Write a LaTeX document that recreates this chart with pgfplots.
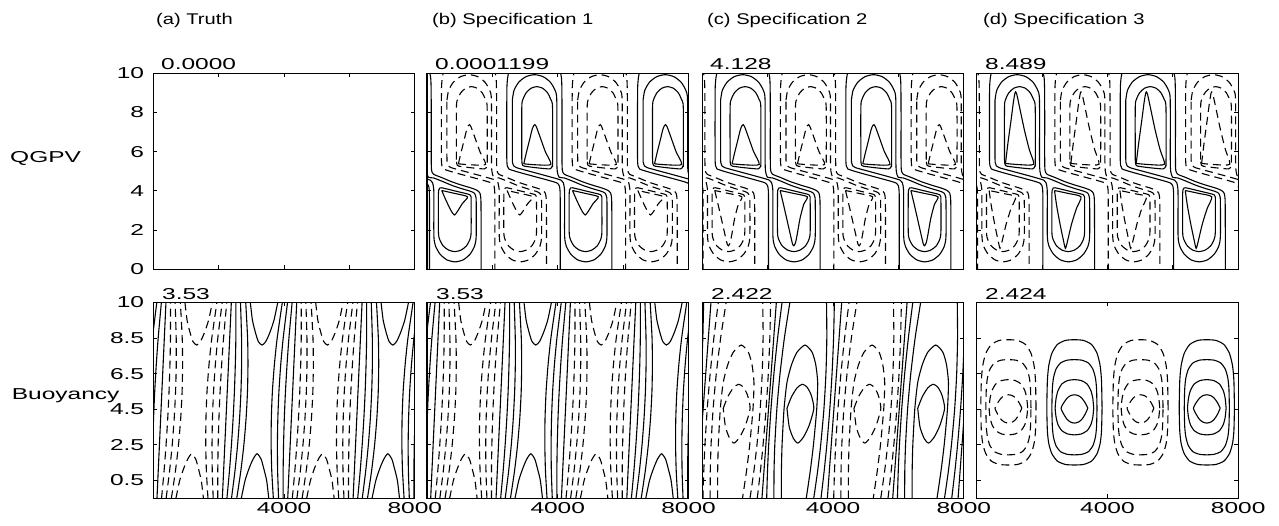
\documentclass[border=0pt]{standalone}
\usepackage{fontspec}
\setmainfont{Liberation Sans}[FakeStretch=1.55]
\newfontfamily\titlefont{Liberation Sans}[FakeStretch=1.3]
\usepackage{pgfplots}
\pgfplotsset{compat=1.18}
\usepackage{pgfplotstable}

% ---------- QGPV band (one positive band, specification 2 position) ----------
\pgfplotstableread{
x y
480 10.3
420 9.8
395 9.3
390 8.0
390 6.0
392 5.55
405 5.28
450 5.12
700 4.98
1000 4.84
1400 4.66
1750 4.5
1930 4.4
2000 4.25
2020 4.0
2025 3.6
2025 2.0
2025 -0.3
}\tLoneL
\pgfplotstableread{
x y
2000 10.3
2060 9.8
2075 9.3
2080 8.0
2080 5.6
2090 5.05
2150 4.85
2400 4.68
2700 4.47
3000 4.3
3300 4.15
3480 4.03
3570 3.88
3600 3.5
3605 2.0
3605 -0.3
}\tLoneR
\pgfplotstableread{
x y
560 8.63
612 9.13
759 9.55
980 9.83
1240 9.93
1500 9.83
1721 9.55
1868 9.13
1920 8.63
1922 5.6
1935 5.0
1990 4.7
2150 4.66
2400 4.5
2700 4.29
3000 4.12
3300 3.97
3400 3.88
3440 3.72
3455 3.45
3455 1.7
3407 1.19
3266 0.77
3056 0.48
2808 0.38
2560 0.48
2350 0.77
2209 1.19
2160 1.7
2160 3.55
2155 4.1
2120 4.42
2050 4.55
1750 4.7
1400 4.86
1000 5.04
700 5.18
600 5.28
570 5.42
560 5.75
560 8.63
}\tLtwo
\pgfplotstableread{
x y
850 5.6
850 8.27
885 8.67
985 9.01
1134 9.24
1310 9.32
1486 9.24
1635 9.01
1735 8.67
1790 8.27
1792 5.5
1785 5.3
1760 5.18
1700 5.12
1300 5.18
930 5.26
880 5.3
858 5.4
850 5.6
}\tLthreeU
\pgfplotstableread{
x y
2300 3.85
2300 1.9
2338 1.52
2446 1.19
2609 0.98
2800 0.9
2991 0.98
3154 1.19
3262 1.52
3300 1.9
3300 3.55
3292 3.72
3265 3.8
3200 3.84
2800 4.0
2400 4.16
2345 4.15
2310 4.05
2300 3.85
}\tLthreeD
\pgfplotstableread{
x y
910 5.38
990 5.95
1080 6.55
1160 7.1
1210 7.32
1250 7.38
1300 7.25
1420 6.7
1570 6.0
1740 5.35
1300 5.33
910 5.38
}\tLfourUc
\pgfplotstableread{
x y
880 5.4
960 6.5
1050 7.6
1120 8.5
1165 8.95
1190 9.05
1230 8.9
1320 8.2
1460 7.1
1610 6.1
1740 5.36
1300 5.34
880 5.4
}\tLfourUd
\pgfplotstableread{
x y
2380 4.02
2470 3.4
2580 2.6
2700 1.72
2760 1.3
2800 1.2
2850 1.35
2900 1.75
2990 2.6
3100 3.3
3210 3.7
2800 3.87
2380 4.02
}\tLfourDc
\pgfplotstableread{
x y
2380 4.02
2450 3.2
2550 2.3
2650 1.5
2713 1.07
2780 1.45
2900 2.3
3050 3.1
3190 3.7
2800 3.87
2380 4.02
}\tLfourDd
\pgfplotstableread{
x y
2400 4.02
2550 3.45
2700 2.95
2790 2.77
2880 2.95
3030 3.35
3190 3.7
2800 3.87
2400 4.02
}\tLfourDb

% ---------- Buoyancy, truth / spec 1 (relative to a saddle centre) ----------
\pgfplotstableread{
x y
-997.5 -0.5
-922 1
-859.5 2.5
-808 4
-768.5 5.5
-741 7
-724.5 8.5
-722.5 10.5
}\tBaOneL
\pgfplotstableread{
x y
722.5 -0.5
722 1
734.5 2.5
758 4
793.5 5.5
841 7
899.5 8.5
997.5 10.5
}\tBaOneR
\pgfplotstableread{
x y
-857.5 -0.5
-754 1
-671.5 2.5
-610 4
-568.5 5.5
-548 7
-549.5 8.5
-582.5 10.5
}\tBaTwoL
\pgfplotstableread{
x y
582.5 -0.5
554 1
546.5 2.5
560 4
593.5 5.5
648 7
724.5 8.5
857.5 10.5
}\tBaTwoR
\pgfplotstableread{
x y
-697.5 -0.5
-575 1
-479.5 2.5
-411 4
-368.5 5.5
-354 7
-365.5 8.5
-422.5 10.5
}\tBaThreeL
\pgfplotstableread{
x y
422.5 -0.5
375 1
354.5 2.5
361 4
393.5 5.5
454 7
540.5 8.5
697.5 10.5
}\tBaThreeR
\pgfplotstableread{
x y
-282.5 10.5
-217.5 9.5
-125 8.8
-37.5 8.3
77.5 8.1
192.5 8.3
315 8.8
442.5 9.5
557.5 10.5
}\tBaTop
\pgfplotstableread{
x y
-557.5 -0.5
-442.5 0.5
-315 1.2
-197.5 1.7
-75 2.0
47.5 1.7
125 1.2
217.5 0.5
282.5 -0.5
}\tBaBot
\pgfplotstableread{
x y
-137.5 -0.5
137.5 10.5
}\tZa

% ---------- Buoyancy, spec 2 ----------
\pgfplotstableread{
x y
-1031 -0.5
-1006 1
-969 2.5
-900 4.5
-809 6.5
-696 8.5
-560 10.5
}\tBcOneL
\pgfplotstableread{
x y
631 -0.5
726 1
809 2.5
900 4.5
969 6.5
1016 8.5
1040 10.5
}\tBcOneR
\pgfplotstableread{
x y
-809 -0.5
-806 1
-782 2.5
-720 4.5
-622 6.5
-489 8.5
-320 10.5
}\tBcTwoL
\pgfplotstableread{
x y
409 -0.5
526 1
622 2.5
720 4.5
782 6.5
809 8.5
800 10.5
}\tBcTwoR
\pgfplotstableread{
x y
-580 -0.5
-580 1
-560 2.5
-500 4.5
-410 6
-270 7
-102 7.7
144 8.1
358 7.7
470 7
530 6
500 4.5
400 2.5
300 1
180 -0.5
}\tBcThree
\pgfplotstableread{
x y
-410 4.55
-270 5.2
-100 5.7
56 5.9
200 5.75
330 5.3
412 4.55
270 3.6
100 2.95
-76 2.6
-210 2.85
-340 3.5
-410 4.55
}\tBcFour
\pgfplotstableread{
x y
-200 -0.5
240 10.5
}\tZc

% ---------- Buoyancy, spec 3 (closed ovals) ----------
\pgfplotstableread{
x y
845 4.56
828 6.10
786 6.94
693 7.63
524 8.13
279 8.36
0 8.40
-279 8.36
-524 8.13
-693 7.63
-786 6.94
-828 6.10
-845 4.56
-828 3.28
-786 2.58
-693 2.01
-524 1.59
-279 1.40
0 1.37
279 1.40
524 1.59
693 2.01
786 2.58
828 3.28
845 4.56
}\tOone
\pgfplotstableread{
x y
690 4.56
676 5.65
642 6.25
566 6.74
428 7.09
228 7.25
0 7.28
-228 7.25
-428 7.09
-566 6.74
-642 6.25
-676 5.65
-690 4.56
-676 3.51
-642 2.94
-566 2.46
-428 2.12
-228 1.97
0 1.94
228 1.97
428 2.12
566 2.46
642 2.94
676 3.51
690 4.56
}\tOtwo
\pgfplotstableread{
x y
590 4.56
560.5 5.12
501.5 5.55
383.5 5.92
206.5 6.11
0 6.16
-206.5 6.11
-383.5 5.92
-501.5 5.55
-560.5 5.12
-590 4.56
-560.5 4.04
-501.5 3.63
-383.5 3.29
-206.5 3.11
0 3.06
206.5 3.11
383.5 3.29
501.5 3.63
560.5 4.04
590 4.56
}\tOthree
\pgfplotstableread{
x y
410 4.56
328 4.86
225.5 5.12
123 5.26
0 5.31
-123 5.26
-225.5 5.12
-328 4.86
-410 4.56
-328 4.22
-225.5 3.93
-123 3.78
0 3.72
123 3.78
225.5 3.93
328 4.22
410 4.56
}\tOfour

\newcommand\shp[3]{\addplot[#1] table[x expr=\thisrow{x}+(#2), y=y]{#3};}
\newcommand\qband[4]{\shp{#1}{#2}{\tLoneL}\shp{#1}{#2}{\tLoneR}\shp{#1}{#2}{\tLtwo}%
  \shp{#1}{#2}{\tLthreeU}\shp{#1}{#2}{\tLthreeD}\shp{#1}{#2}{#3}\shp{#1}{#2}{#4}}
\newcommand\aband[2]{\shp{#1}{#2}{\tBaOneL}\shp{#1}{#2}{\tBaOneR}\shp{#1}{#2}{\tBaTwoL}%
  \shp{#1}{#2}{\tBaTwoR}\shp{#1}{#2}{\tBaThreeL}\shp{#1}{#2}{\tBaThreeR}%
  \shp{#1}{#2}{\tBaTop}\shp{#1}{#2}{\tBaBot}}
\newcommand\cband[2]{\shp{#1}{#2}{\tBcOneL}\shp{#1}{#2}{\tBcOneR}\shp{#1}{#2}{\tBcTwoL}%
  \shp{#1}{#2}{\tBcTwoR}\shp{#1}{#2}{\tBcThree}\shp{#1}{#2}{\tBcFour}}
\newcommand\dband[2]{\shp{#1}{#2}{\tOone}\shp{#1}{#2}{\tOtwo}\shp{#1}{#2}{\tOthree}\shp{#1}{#2}{\tOfour}}

\pgfplotsset{
  sol/.style={black, line width=1.1pt, solid, smooth, tension=0.4},
  dsh/.style={black, line width=1.1pt, dash pattern=on 8pt off 5pt, smooth, tension=0.4},
  panel/.style={scale only axis, width=261.5pt, height=196pt, xmin=0, xmax=8000,
    axis line style={line width=1.3pt}, every tick/.style={black, line width=0.8pt},
    major tick length=4pt, tick align=inside, tick pos=both, clip=true,
    font=\fontsize{15.8}{18}\selectfont,
    xticklabel style={inner sep=0pt}, xticklabel shift=4pt,
    yticklabel style={inner sep=0pt}, yticklabel shift=9pt,
    anchor=south west},
  toprow/.style={panel, ymin=0, ymax=10, xtick={2000,4000,6000}, xticklabels={},
    ytick={0,2,4,6,8,10}, yticklabels={}},
  botrow/.style={panel, ymin=-0.5, ymax=10.5, xtick={4000,8000}, xticklabels={4000,8000},
    ytick={0.5,2.5,4.5,6.5,8.5,10.5}, yticklabels={}},
}

\begin{document}
\begin{tikzpicture}
\path[use as bounding box] (0,0) rectangle (1279pt,525pt);
\tikzset{lab/.style={font=\fontsize{15.8}{18}\selectfont, inner sep=0pt}}
\tikzset{ttl/.style={font=\titlefont\fontsize{15.5}{18}\selectfont, inner sep=0pt, anchor=west}}

% titles
\node[ttl] at (156pt,505pt) {(a) Truth};
\node[ttl] at (432pt,505pt) {(b) Specification 1};
\node[ttl] at (707pt,505pt) {(c) Specification 2};
\node[ttl] at (983pt,505pt) {(d) Specification 3};
% row labels
\node[lab, anchor=west] at (10pt,367pt) {QGPV};
\node[lab, anchor=base west] at (11.7pt,126pt) {Buoyancy};

% ---------------- top row ----------------
\begin{axis}[toprow, at={(153.3pt,255.7pt)}, yticklabels={0,2,4,6,8,10}]
\end{axis}
\begin{axis}[toprow, at={(427pt,255.7pt)}]
\qband{sol}{-1950}{\tLfourUc}{\tLfourDb}
\qband{sol}{2050}{\tLfourUc}{\tLfourDb}
\qband{sol}{6050}{\tLfourUc}{\tLfourDb}
\qband{dsh}{50}{\tLfourUc}{\tLfourDb}
\qband{dsh}{4050}{\tLfourUc}{\tLfourDb}
\end{axis}
\begin{axis}[toprow, at={(702.3pt,255.7pt)}]
\qband{sol}{0}{\tLfourUc}{\tLfourDc}
\qband{sol}{4000}{\tLfourUc}{\tLfourDc}
\qband{dsh}{-2000}{\tLfourUc}{\tLfourDc}
\qband{dsh}{2000}{\tLfourUc}{\tLfourDc}
\qband{dsh}{6000}{\tLfourUc}{\tLfourDc}
\end{axis}
\begin{axis}[toprow, at={(976.7pt,255.7pt)}]
\qband{sol}{0}{\tLfourUd}{\tLfourDd}
\qband{sol}{4000}{\tLfourUd}{\tLfourDd}
\qband{dsh}{-2000}{\tLfourUd}{\tLfourDd}
\qband{dsh}{2000}{\tLfourUd}{\tLfourDd}
\qband{dsh}{6000}{\tLfourUd}{\tLfourDd}
\end{axis}

% ---------------- bottom row ----------------
\begin{axis}[botrow, at={(153.3pt,26.7pt)}, yticklabels={0.5,2.5,4.5,6.5,8.5,10}]
\aband{sol}{-750}\aband{sol}{3250}\aband{sol}{7250}
\aband{dsh}{1250}\aband{dsh}{5250}
\shp{sol}{250}{\tZa}\shp{sol}{2250}{\tZa}\shp{sol}{4250}{\tZa}\shp{sol}{6250}{\tZa}
\end{axis}
\begin{axis}[botrow, at={(427pt,26.7pt)}]
\aband{sol}{-750}\aband{sol}{3250}\aband{sol}{7250}
\aband{dsh}{1250}\aband{dsh}{5250}
\shp{sol}{250}{\tZa}\shp{sol}{2250}{\tZa}\shp{sol}{4250}{\tZa}\shp{sol}{6250}{\tZa}
\end{axis}
\begin{axis}[botrow, at={(702.3pt,26.7pt)}]
\cband{sol}{-1000}\cband{sol}{3000}\cband{sol}{7000}
\cband{dsh}{1050}\cband{dsh}{5050}
\shp{sol}{25}{\tZc}\shp{sol}{2025}{\tZc}\shp{sol}{4025}{\tZc}\shp{sol}{6025}{\tZc}\shp{sol}{8025}{\tZc}
\end{axis}
\begin{axis}[botrow, at={(976.7pt,26.7pt)}]
\dband{sol}{2990}\dband{sol}{7040}
\dband{dsh}{970}\dband{dsh}{5010}
\end{axis}

% values above panels
\node[lab, anchor=base west] at (161pt,455.5pt) {0.0000};
\node[lab, anchor=base west] at (435pt,455.5pt) {0.0001199};
\node[lab, anchor=base west] at (710pt,455.5pt) {4.128};
\node[lab, anchor=base west] at (985pt,455.5pt) {8.489};
\node[lab, anchor=base west] at (162pt,225.7pt) {3.53};
\node[lab, anchor=base west] at (436pt,225.7pt) {3.53};
\node[lab, anchor=base west] at (711pt,225.7pt) {2.422};
\node[lab, anchor=base west] at (985pt,225.7pt) {2.424};
\end{tikzpicture}
\end{document}
